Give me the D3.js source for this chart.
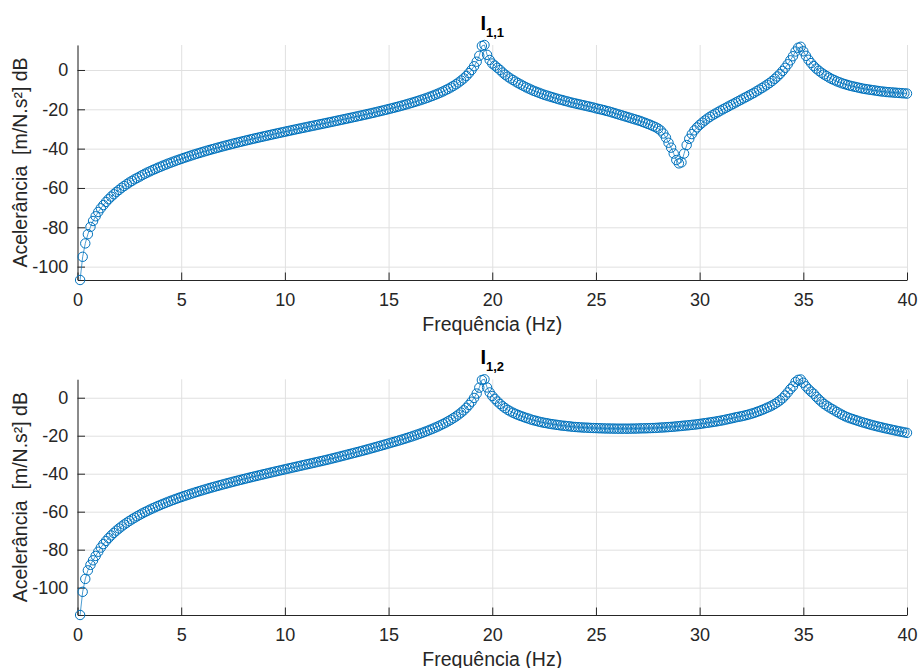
<!DOCTYPE html>
<html>
<head>
<meta charset="utf-8">
<script src="https://cdn.jsdelivr.net/npm/d3@7"></script>
<style>
  html, body { margin: 0; padding: 0; background: #ffffff; }
  svg { display: block; font-family: "Liberation Sans", Arial, Helvetica, sans-serif; }
</style>
</head>
<body>
<svg id="chart" width="918" height="668"></svg>
<script>
// Frequency grid (Hz): uniform sampling, first sample after 0 Hz
const freqStart = 0.125;
const freqStep = 0.125;

// Accelerance I(1,1) in dB, one row per Hz (8 samples each)
const accel11 = [
  -106.8, -95.0, -88.2, -83.5, -79.8, -76.8, -74.4, -72.2,
  -70.3, -68.7, -67.1, -65.7, -64.4, -63.2, -62.0, -61.0,
  -59.9, -59.0, -58.1, -57.2, -56.4, -55.6, -54.9, -54.2,
  -53.45, -52.77, -52.12, -51.51, -50.90, -50.31, -49.74, -49.19,
  -48.65, -48.12, -47.60, -47.10, -46.61, -46.13, -45.66, -45.21,
  -44.76, -44.31, -43.87, -43.44, -43.02, -42.61, -42.21, -41.81,
  -41.42, -41.04, -40.66, -40.28, -39.92, -39.56, -39.20, -38.84,
  -38.50, -38.16, -37.82, -37.48, -37.15, -36.83, -36.50, -36.18,
  -35.86, -35.55, -35.23, -34.92, -34.62, -34.32, -34.02, -33.72,
  -33.43, -33.13, -32.84, -32.54, -32.26, -31.97, -31.69, -31.40,
  -31.12, -30.84, -30.55, -30.27, -29.99, -29.71, -29.44, -29.16,
  -28.88, -28.60, -28.33, -28.05, -27.78, -27.50, -27.23, -26.95,
  -26.67, -26.40, -26.12, -25.84, -25.56, -25.28, -25.00, -24.72,
  -24.44, -24.15, -23.86, -23.57, -23.28, -22.99, -22.70, -22.40,
  -22.10, -21.80, -21.49, -21.17, -20.86, -20.54, -20.22, -19.89,
  -19.56, -19.23, -18.88, -18.53, -18.18, -17.82, -17.45, -17.06,
  -16.68, -16.27, -15.87, -15.44, -15.02, -14.56, -14.11, -13.61,
  -13.13, -12.60, -12.06, -11.49, -10.90, -10.26, -9.59, -8.87,
  -8.11, -7.28, -6.38, -5.38, -4.29, -3.04, -1.6, 0.0,
  1.9, 4.2, 7.2, 12.2, 12.7, 7.7, 5.1, 3.3,
  2.2, 1.1, 0.0, -1.3, -2.4, -3.4, -4.3, -5.1,
  -5.9, -6.7, -7.4, -8.1, -8.8, -9.4, -10.0, -10.6,
  -11.1, -11.6, -12.1, -12.6, -13.0, -13.4, -13.8, -14.2,
  -14.6, -15.0, -15.3, -15.7, -16.0, -16.4, -16.7, -17.0,
  -17.3, -17.6, -17.9, -18.2, -18.5, -18.8, -19.1, -19.5,
  -19.8, -20.1, -20.4, -20.8, -21.1, -21.5, -21.9, -22.3,
  -22.7, -23.1, -23.5, -23.9, -24.3, -24.7, -25.1, -25.5,
  -25.9, -26.4, -26.9, -27.4, -27.9, -28.5, -29.1, -29.8,
  -30.8, -32.3, -34.4, -37.0, -39.5, -42.5, -45.8, -47.5,
  -47.0, -42.5, -38.2, -35.0, -32.6, -30.7, -29.2, -27.9,
  -26.8, -25.7, -24.7, -23.8, -23.0, -22.2, -21.5, -20.7,
  -20.0, -19.3, -18.6, -17.9, -17.2, -16.5, -15.8, -15.1,
  -14.4, -13.7, -13.0, -12.3, -11.6, -10.8, -10.0, -9.2,
  -8.4, -7.5, -6.6, -5.6, -4.5, -3.3, -2.0, -0.5,
  1.1, 2.9, 4.9, 7.0, 9.4, 11.3, 11.8, 9.5,
  7.2, 5.2, 3.5, 2.0, 0.7, -0.4, -1.4, -2.3,
  -3.1, -3.9, -4.6, -5.2, -5.8, -6.3, -6.8, -7.2,
  -7.6, -8.0, -8.3, -8.6, -8.9, -9.2, -9.5, -9.7,
  -9.9, -10.1, -10.3, -10.5, -10.7, -10.9, -11.0, -11.2,
  -11.3, -11.4, -11.5, -11.6, -11.7, -11.8, -11.9, -12.0
];

// Accelerance I(1,2) in dB, one row per Hz (8 samples each)
const accel12 = [
  -114.4, -102.2, -95.4, -90.9, -88.0, -85.6, -83.3, -81.1,
  -78.9, -77.07, -75.42, -73.90, -72.50, -71.19, -69.98, -68.84,
  -67.78, -66.76, -65.81, -64.90, -64.03, -63.21, -62.41, -61.65,
  -60.91, -60.21, -59.53, -58.88, -58.25, -57.64, -57.04, -56.45,
  -55.89, -55.34, -54.80, -54.27, -53.76, -53.26, -52.77, -52.29,
  -51.83, -51.37, -50.92, -50.48, -50.05, -49.62, -49.20, -48.78,
  -48.38, -47.98, -47.58, -47.19, -46.81, -46.43, -46.06, -45.69,
  -45.33, -44.97, -44.61, -44.25, -43.90, -43.56, -43.21, -42.87,
  -42.53, -42.19, -41.86, -41.52, -41.20, -40.87, -40.55, -40.23,
  -39.91, -39.59, -39.27, -38.95, -38.64, -38.32, -38.01, -37.70,
  -37.39, -37.08, -36.77, -36.46, -36.15, -35.84, -35.53, -35.22,
  -34.91, -34.61, -34.30, -33.99, -33.68, -33.37, -33.06, -32.75,
  -32.42, -32.08, -31.74, -31.40, -31.06, -30.71, -30.36, -30.01,
  -29.66, -29.31, -28.96, -28.61, -28.25, -27.89, -27.52, -27.15,
  -26.78, -26.40, -26.02, -25.64, -25.25, -24.86, -24.47, -24.07,
  -23.68, -23.29, -22.90, -22.51, -22.10, -21.68, -21.25, -20.81,
  -20.37, -19.91, -19.44, -18.96, -18.47, -17.96, -17.43, -16.89,
  -16.33, -15.75, -15.14, -14.50, -13.83, -13.13, -12.38, -11.60,
  -10.76, -9.86, -8.87, -7.82, -6.64, -5.32, -3.8, -2.1,
  -0.1, 2.2, 5.3, 9.3, 9.7, 5.4, 2.8, 0.9,
  -0.6, -2.0, -3.3, -4.5, -5.5, -6.4, -7.2, -7.9,
  -8.5, -9.1, -9.6, -10.1, -10.6, -11.0, -11.5, -11.9,
  -12.2, -12.6, -12.9, -13.2, -13.4, -13.7, -13.9, -14.1,
  -14.3, -14.5, -14.7, -14.8, -15.0, -15.1, -15.3, -15.4,
  -15.5, -15.6, -15.7, -15.75, -15.8, -15.9, -15.95, -16.0,
  -16.05, -16.1, -16.15, -16.2, -16.2, -16.25, -16.25, -16.3,
  -16.3, -16.3, -16.3, -16.3, -16.3, -16.25, -16.25, -16.2,
  -16.15, -16.1, -16.1, -16.05, -16.0, -15.95, -15.9, -15.8,
  -15.7, -15.65, -15.55, -15.45, -15.35, -15.25, -15.1, -15.0,
  -14.85, -14.7, -14.6, -14.45, -14.3, -14.15, -14.0, -13.8,
  -13.6, -13.4, -13.2, -13.0, -12.8, -12.6, -12.35, -12.1,
  -11.85, -11.55, -11.25, -10.95, -10.65, -10.3, -10.05, -9.8,
  -9.5, -9.15, -8.8, -8.4, -8.0, -7.5, -7.0, -6.5,
  -5.9, -5.3, -4.7, -4.05, -3.25, -2.4, -1.4, -0.3,
  1.2, 2.8, 4.5, 6.0, 8.3, 9.4, 9.6, 7.9,
  6.0, 4.5, 3.2, 2.1, 0.5, -0.9, -2.1, -3.3,
  -4.2, -5.1, -5.9, -6.7, -7.5, -8.3, -9.0, -9.7,
  -10.3, -10.8, -11.25, -11.7, -12.15, -12.6, -13.0, -13.4,
  -13.8, -14.2, -14.55, -14.9, -15.25, -15.55, -15.9, -16.2,
  -16.5, -16.8, -17.1, -17.4, -17.7, -17.95, -18.25, -18.5
];

const xTickValues = [0, 5, 10, 15, 20, 25, 30, 35, 40];
const yTickValues = [-100, -80, -60, -40, -20, 0];
const freqDomain = [0, 40];
const titleSubscripts = ["1,1", "1,2"];
const xLabelText = "Frequência (Hz)";
const yLabelText = "Acelerância  [m/N.s²] dB";

const freqs = accel11.map((_, i) => freqStart + i * freqStep);

// Layout
const axisColor = "#262626";
const gridColor = "#e0e0e0";
const lineColor = "#0072BD";
const plotLeft = 77.5, plotRight = 907;
const panels = [
  { values: accel11, sub: titleSubscripts[0], top: 45, bottom: 280 },
  { values: accel12, sub: titleSubscripts[1], top: 379.3, bottom: 615 }
];

const svg = d3.select("#chart");
const x = d3.scaleLinear().domain(freqDomain).range([plotLeft, plotRight]);
const cx = (plotLeft + plotRight) / 2;

panels.forEach(p => {
  const y = d3.scaleLinear().domain(d3.extent(p.values)).range([p.bottom, p.top]);
  const h = p.bottom - p.top;
  const g = svg.append("g");

  // grid
  g.append("g")
    .attr("transform", `translate(0,${p.bottom})`)
    .call(d3.axisBottom(x).tickValues(xTickValues).tickSize(-h).tickFormat(""))
    .call(s => s.select(".domain").remove())
    .call(s => s.selectAll("line").attr("stroke", gridColor).attr("stroke-width", 1));
  g.append("g")
    .attr("transform", `translate(${plotLeft},0)`)
    .call(d3.axisLeft(y).tickValues(yTickValues).tickSize(-(plotRight - plotLeft)).tickFormat(""))
    .call(s => s.select(".domain").remove())
    .call(s => s.selectAll("line").attr("stroke", gridColor).attr("stroke-width", 1));

  // axes (ticks pointing inward)
  const xAxis = g.append("g")
    .attr("transform", `translate(0,${p.bottom})`)
    .attr("color", axisColor)
    .call(d3.axisBottom(x).tickValues(xTickValues).tickSizeInner(-7.5).tickSizeOuter(0)
      .tickPadding(13.5).tickFormat(d => String(d)));
  xAxis.selectAll("text").attr("font-size", 18).attr("fill", axisColor);

  const yAxis = g.append("g")
    .attr("transform", `translate(${plotLeft},0)`)
    .attr("color", axisColor)
    .call(d3.axisLeft(y).tickValues(yTickValues).tickSizeInner(-7.5).tickSizeOuter(0)
      .tickPadding(9.2).tickFormat(d => String(d)));
  yAxis.selectAll("text").attr("font-size", 18).attr("fill", axisColor);
  [xAxis, yAxis].forEach(a => a.select(".domain").attr("stroke-width", 1));

  // data: thin line plus open circle markers
  const pts = freqs.map((f, i) => [f, p.values[i]]);
  g.append("path")
    .datum(pts)
    .attr("fill", "none")
    .attr("stroke", lineColor)
    .attr("stroke-width", 0.7)
    .attr("d", d3.line().x(d => x(d[0])).y(d => y(d[1])));
  g.append("g").selectAll("circle")
    .data(pts)
    .join("circle")
    .attr("cx", d => x(d[0]))
    .attr("cy", d => y(d[1]))
    .attr("r", 4.7)
    .attr("fill", "none")
    .attr("stroke", lineColor)
    .attr("stroke-width", 1);

  // title I with subscript
  const t = svg.append("text")
    .attr("x", cx)
    .attr("y", p.top - 15)
    .attr("text-anchor", "middle")
    .attr("font-weight", "bold")
    .attr("fill", "#000");
  t.append("tspan").attr("font-size", 20).text("I");
  t.append("tspan").attr("font-size", 13).attr("dy", 7).text(p.sub);

  // axis labels
  svg.append("text")
    .attr("x", cx)
    .attr("y", p.bottom + 51)
    .attr("text-anchor", "middle")
    .attr("font-size", 19.5)
    .attr("fill", axisColor)
    .text(xLabelText);
  svg.append("text")
    .attr("transform", `translate(20,${(p.top + p.bottom) / 2}) rotate(-90)`)
    .attr("text-anchor", "middle")
    .attr("dy", "0.35em")
    .attr("font-size", 19.5)
    .attr("fill", axisColor)
    .style("white-space", "pre")
    .text(yLabelText);
});
</script>
</body>
</html>
